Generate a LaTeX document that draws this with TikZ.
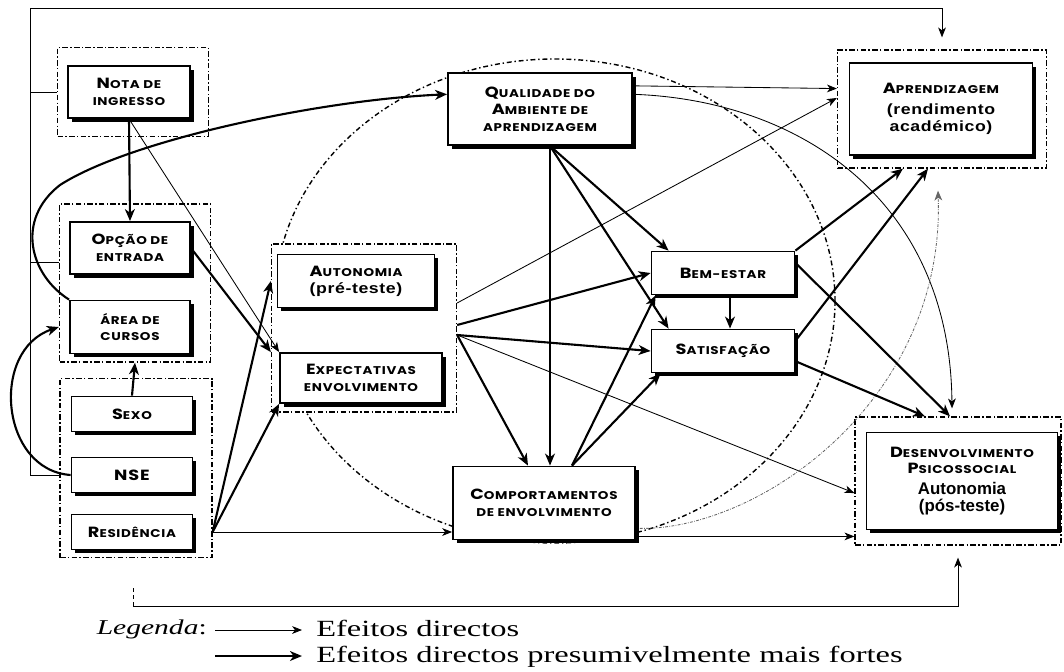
\documentclass[tikz,border=0pt]{standalone}
\usepackage{fontspec}
\setmainfont{Liberation Serif}
\newfontfamily\boxfont[LetterSpace=6, FakeStretch=1.2]{Poppins}
\newfontfamily\lowfont[LetterSpace=4, FakeStretch=1.2]{Liberation Sans}
\newfontfamily\narfont{Liberation Sans}
\newfontfamily\legfont[FakeStretch=1.4]{Liberation Serif}
\usetikzlibrary{positioning}
\usetikzlibrary{arrows.meta}
\usetikzlibrary{shadows}
\usetikzlibrary{calc}

\newcommand{\vers}[2]{{\fontsize{10.5}{11}\selectfont #1}{\fontsize{8}{11}\selectfont #2}}
\newcommand{\pq}[1]{{\fontsize{8}{11}\selectfont #1}}

\tikzset{
    mybox/.style = {rectangle, line width=1.3pt, draw=black, fill=white, align=center, inner sep=1pt,
        font=\boxfont\bfseries, drop shadow={shadow xshift=2.8pt, shadow yshift=-2.8pt, fill=black, opacity=1}},
    sz/.style 2 args = {minimum width=#1*0.025cm, minimum height=#2*0.025cm},
    mygroup/.style = {rectangle, line width=0.9pt, draw=black, fill=white, dash pattern=on 4pt off 1.6pt on 1pt off 1.6pt},
    elipse/.style = {line width=1pt, dash pattern=on 3.5pt off 2pt on 1pt off 2pt},
    edgen/.style = {-{Stealth[length=7pt,width=5.5pt,inset=2pt]}, line width=0.6pt, black},
    edgef/.style = {-{Stealth[length=8.5pt,width=7pt,inset=2.5pt]}, line width=1.5pt, black},
    edgeq/.style = {line width=0.6pt, black},
    edged/.style = {edgen, black!60, dash pattern=on 2pt off 1pt on 0.5pt off 1pt},
    legenda/.style = {inner sep=0pt, font=\legfont\fontsize{16.5}{18}\selectfont}
}

\begin{document}
\begin{tikzpicture}[x=0.025cm, y=-0.025cm]
\useasboundingbox[fill=white] (0,0) rectangle (1064,671);

\draw[elipse] (555,301) ellipse [x radius=280, y radius=242];

% grupos
\node[mygroup, sz={151}{89}]  at (133, 92) (gNota) {};
\node[mygroup, sz={151}{158}] at (135,283) (gOpc) {};
\node[mygroup, sz={152}{179}] at (136,468) (gSexo) {};
\node[mygroup, sz={185}{168}] at (364,328) (gAut) {};
\node[mygroup, sz={209}{118}] at (942,109) (gApr) {};
\node[mygroup, sz={206}{128}] at (958,481) (gDes) {};

% caixas
\node[mybox, sz={122}{52}] at (129, 92) (nota)   {\vers{N}{OTA DE}\\\pq{INGRESSO}};
\node[mybox, sz={120}{52}] at (130,248) (opcao)  {\vers{O}{PÇÃO DE}\\\pq{ENTRADA}};
\node[mybox, sz={120}{53}] at (130,327) (area)   {\pq{ÁREA DE}\\\pq{CURSOS}};
\node[mybox, sz={121}{35}] at (132,414) (sexo)   {\vers{S}{EXO}};
\node[mybox, sz={121}{35}] at (132,475) (nse)    {\vers{NSE}{}};
\node[mybox, sz={121}{35}] at (132,532) (resid)  {\vers{R}{ESIDÊNCIA}};
\node[mybox, sz={157}{53}] at (356,281) (auton)  {\vers{A}{UTONOMIA}\\{\lowfont\fontsize{10.5}{12}\selectfont (pré-teste)}};
\node[mybox, sz={162}{50}] at (361,378) (expect) {\vers{E}{XPECTATIVAS}\\\pq{ENVOLVIMENTO}};
\node[mybox, sz={184}{72}] at (540,109) (qual)   {\vers{Q}{UALIDADE DO}\\\vers{A}{MBIENTE DE}\\\pq{APRENDIZAGEM}};
\node[mybox, sz={182}{73}] at (544,503) (comp)   {\vers{C}{OMPORTAMENTOS}\\\pq{DE ENVOLVIMENTO}};
\node[mybox, sz={143}{43}] at (723,273) (bem)    {\vers{B}{EM-ESTAR}};
\node[mybox, sz={143}{43}] at (723,351) (satis)  {\vers{S}{ATISFAÇÃO}};
\node[mybox, sz={183}{92}] at (941,109) (aprend) {\vers{A}{PRENDIZAGEM}\\[3pt]{\lowfont\fontsize{10.5}{12}\selectfont (rendimento}\\{\lowfont\fontsize{10.5}{12}\selectfont académico)}};
\node[mybox, sz={191}{97}] at (962,481) (desenv) {\vers{D}{ESENVOLVIMENTO}\\\vers{P}{SICOSSOCIAL}\\[3pt]{\narfont\bfseries\fontsize{12}{13.5}\selectfont Autonomia}\\{\narfont\bfseries\fontsize{12}{13.5}\selectfont (pós-teste)}};

% quadro exterior
\coordinate (fcima) at (30,8);
\coordinate (fbaixo) at (30,475);
\coordinate (fpont) at (133,588);
\coordinate (fesq) at (133,606);
\coordinate (fopc) at ($(gOpc.west)+(0,-21)$);
\draw[edgeq] (gNota.west) -- (fcima |- gNota.west);
\draw[edgeq] (fopc) -- (fcima |- fopc);
\draw[edgeq] (gSexo.west |- fbaixo) -- (fbaixo);
\draw[edgen, shorten >=0.3cm] (fbaixo) -- (fcima) -- (fcima -| gApr.north) -- (gApr.north);
\draw[edgeq, densely dashed, line width=0.4pt] (fpont) -- (fesq);
\draw[edgen, shorten >=0.3cm] (fesq) -- (fesq -| gDes.south) -- (gDes.south);

% lado esquerdo
\draw[edgef] (nota.south) -- (opcao.north);
\draw[edgen] (nota.south) -- (expect.north west);
\draw[edgef] (opcao.east) -- (gAut.west |- expect.north);
\draw[edgef] (sexo.north) -- (gOpc.south);
\draw[edgef] (area.north west) .. controls (30,275) and (15,220) .. (60,185)
    .. controls (130,140) and (320,100) .. (qual.171);
\draw[edgef] (nse.west) .. controls (0,470) and (-10,350) .. (gOpc.west |- area.west);
\coordinate (rs) at (gSexo.east |- resid.east);
\draw[edgef] (rs) -- (gAut.west |- auton.west);
\draw[edgef] (rs) -- (expect.south west);
\draw[edgen] (rs) -- (comp.west |- rs);

% autonomia / expectativas
\coordinate (a1) at ($(gAut.east)+(0,-25)$);
\coordinate (a2) at ($(gAut.east)+(0,-3)$);
\coordinate (a3) at ($(gAut.east)+(0,7)$);
\coordinate (c1) at ($(comp.north)+(-16,0)$);
\coordinate (d1) at ($(gDes.west)+(0,12)$);
\draw[edgen] (a1) -- (gApr.174);
\draw[edgef] (a2) -- (bem.west);
\draw[edgef] (a3) -- (satis.west);
\draw[edgef] (a3) -- (c1);
\draw[edgen] (a3) -- (d1);

% qualidade do ambiente
\coordinate (qs) at ($(qual.south)+(10,0)$);
\coordinate (b1) at ($(bem.north west)+(18,0)$);
\coordinate (s1) at ($(satis.north west)+(18,0)$);
\coordinate (d2) at ($(gDes.north)+(-6,-8)$);
\draw[edgef] (qs) -- (qs |- comp.north);
\draw[edgef] (qs) -- (b1);
\draw[edgef] (qs) -- (s1);
\draw[edgen] (qual.14) -- (gApr.169);
\draw[edgen] (qual.9) .. controls (800,100) and (950,200) .. (d2);

% comportamentos
\coordinate (cs) at ($(comp.north)+(28,0)$);
\coordinate (b2) at ($(bem.south west)+(5,0)$);
\coordinate (s2) at ($(satis.south west)+(10,0)$);
\coordinate (ce) at ($(comp.south east)+(0,-4)$);
\coordinate (cd) at ($(comp.south east)+(4,-12)$);
\coordinate (a4) at ($(gApr.south)+(-4,22)$);
\draw[edgef] (cs) -- (b2);
\draw[edgef] (cs) -- (s2);
\draw[edgen] (ce) -- (gDes.west |- ce);
\draw[edged] (cd) .. controls (760,530) and (945,400) .. (a4);

% bem-estar / satisfacao
\coordinate (b3) at ($(bem.south)+(7,0)$);
\coordinate (s3) at ($(satis.north)+(7,0)$);
\coordinate (p1) at ($(gApr.south)+(-39,0)$);
\coordinate (p2) at ($(gApr.south)+(-14,0)$);
\coordinate (d3) at ($(gDes.north)+(-8,0)$);
\coordinate (d4) at ($(gDes.north)+(-33,0)$);
\draw[edgef] (b3) -- (s3);
\draw[edgef] (bem.north east) -- (p1);
\draw[edgef] (satis.8) -- (p2);
\draw[edgef] (bem.8) -- (d3);
\draw[edgef] (satis.-8) -- (d4);

% legenda
\node[legenda, anchor=east, font=\legfont\fontsize{15}{17}\selectfont] at (207,629) (leg) {\textit{Legenda}:};
\coordinate (l1a) at (215,630);
\coordinate (l1b) at (302,630);
\coordinate (l2a) at (215,656);
\coordinate (l2b) at (302,656);
\draw[edgen] (l1a) -- (l1b);
\draw[edgef] (l2a) -- (l2b);
\node[legenda, anchor=west] at (316,628) (ef1) {Efeitos directos};
\node[legenda, anchor=west] at (316,657) (ef2) {Efeitos directos presumivelmente mais fortes};

\end{tikzpicture}
\end{document}
